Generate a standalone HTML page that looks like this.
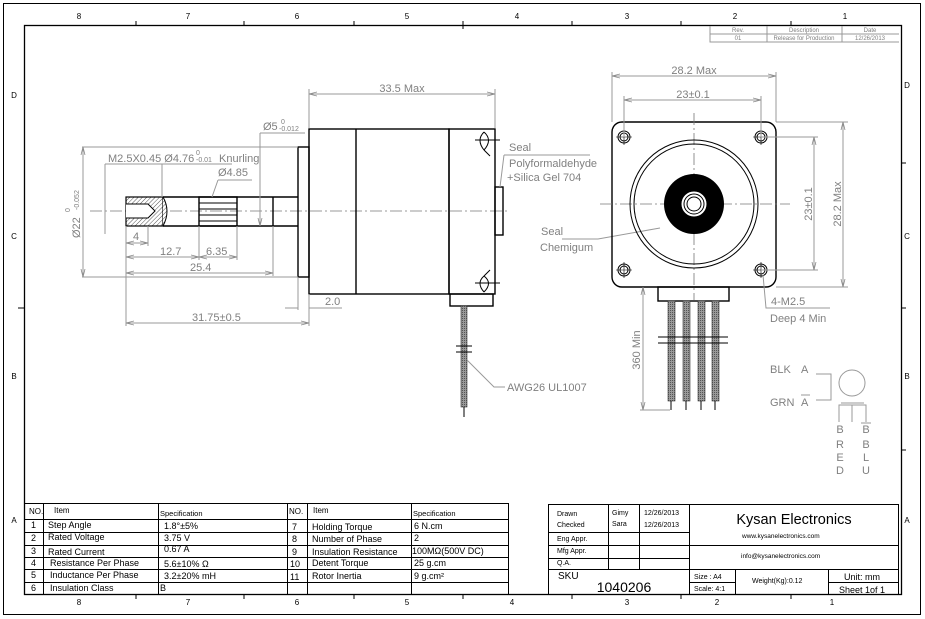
<!DOCTYPE html>
<html><head><meta charset="utf-8"><style>
body{margin:0;background:#fff}
svg{display:block}
text{font-family:"Liberation Sans",sans-serif}
.g{fill:#808080}
.d{stroke:#999;stroke-width:1;fill:none}
.k{stroke:#000;stroke-width:1.4;fill:none}
.t{stroke:#000;stroke-width:1;fill:none}
.c{stroke:#777;stroke-width:0.8;stroke-dasharray:12 3 2 3;fill:none}
</style></head><body>
<svg width="925" height="619" viewBox="0 0 925 619" xmlns="http://www.w3.org/2000/svg">
<defs>
<pattern id="h" width="3" height="3" patternUnits="userSpaceOnUse" patternTransform="rotate(45)"><rect width="3" height="3" fill="#fff"/><line x1="0" y1="0" x2="0" y2="3" stroke="#555" stroke-width="1"/></pattern>
<pattern id="w" width="2" height="2" patternUnits="userSpaceOnUse"><rect width="2" height="2" fill="#999"/><rect width="1" height="1" fill="#555"/></pattern>
<marker id="a" markerWidth="8" markerHeight="6" refX="8" refY="3" orient="auto-start-reverse"><path d="M0,1 L8,3 L0,5" fill="none" stroke="#888" stroke-width="0.8"/></marker>
</defs>
<!-- frames -->
<rect x="3.5" y="3.5" width="917" height="611" fill="none" stroke="#000" stroke-width="1"/>
<rect x="24.5" y="25.5" width="877" height="569" fill="none" stroke="#000" stroke-width="1.3"/>
<g font-size="8" fill="#000" text-anchor="middle">
<text x="79" y="19">8</text><text x="188" y="19">7</text><text x="297" y="19">6</text><text x="407" y="19">5</text><text x="517" y="19">4</text><text x="627" y="19">3</text><text x="735" y="19">2</text><text x="845" y="19">1</text>
<text x="79" y="605">8</text><text x="188" y="605">7</text><text x="297" y="605">6</text><text x="407" y="605">5</text><text x="512" y="605">4</text><text x="627" y="605">3</text><text x="717" y="605">2</text><text x="832" y="605">1</text>
<text x="14" y="98">D</text><text x="14" y="239">C</text><text x="14" y="379">B</text><text x="14" y="523">A</text>
<text x="907" y="88">D</text><text x="907" y="239">C</text><text x="907" y="379">B</text><text x="907" y="523">A</text>
</g>
<g stroke="#000" stroke-width="1">
<path d="M136,21V25M244,21V25M354,21V25M463,21V29M572,21V25M681,21V25M791,21V25"/>
<path d="M136,595V599M244,595V599M354,595V599M463,595V599M572,595V599M681,595V599M791,595V599"/>
<path d="M18,308H24M901,163H906M901,308H906M901,450H906"/>
</g>
<!-- rev table -->
<g class="d" stroke="#aaa"><path d="M710,26V42H899M710,34H899M767,26V42M842,26V42"/></g>
<g font-size="6" class="g" text-anchor="middle"><text x="738" y="32">Rev.</text><text x="804" y="32">Description</text><text x="870" y="32">Date</text><text x="738" y="40">01</text><text x="804" y="40">Release for Production</text><text x="870" y="40">12/26/2013</text></g>

<!-- SIDE VIEW -->
<path class="c" d="M90,211H510"/>
<rect class="k" x="309" y="129" width="140" height="165"/>
<path class="k" d="M356,129V294"/>
<rect class="k" x="449" y="129" width="46" height="165"/>
<rect class="k" x="450" y="294" width="43" height="12"/>
<rect class="k" x="495" y="187" width="8" height="48"/>
<rect class="k" x="298" y="147" width="11" height="130"/>
<path class="k" d="M163,197H298M163,226H298M273,197V226"/>
<rect x="126" y="197" width="37" height="29" fill="url(#h)" stroke="#000" stroke-width="1.2"/>
<path d="M126,204H148L155,211L148,218H126" fill="#fff" stroke="#000" stroke-width="1"/>
<path d="M163,197Q171,211 163,226" fill="url(#h)" stroke="#000"/>
<rect class="k" x="199" y="197" width="38" height="29"/>
<path stroke="#000" d="M199,203H237M199,209H237M199,215H237M199,221H237"/>
<!-- seals -->
<path class="t" d="M484,132Q476,140 484,150 M484,132Q493,140 484,150 M475,140H500M484,150L490,156M484,276Q476,283 484,292 M484,276Q493,283 484,292 M475,283H500M484,276L490,270"/>
<!-- cable -->
<rect x="461" y="306" width="6" height="101" fill="url(#w)" stroke="#333" stroke-width="0.6"/>
<path stroke="#000" d="M456,346H472M456,352H472M464,407V417"/>
<path class="d" d="M467,360L494,387H505"/>
<text x="507" y="391" font-size="11" class="g">AWG26 UL1007</text>
<path class="d" d="M504,155H590M504,155L500,187"/>
<text x="509" y="151" font-size="11" class="g">Seal</text>
<text x="509" y="167" font-size="11" class="g">Polyformaldehyde</text>
<text x="507" y="181" font-size="11" class="g">+Silica Gel 704</text>
<text x="541" y="235" font-size="11" class="g">Seal</text>
<text x="540" y="251" font-size="11" class="g">Chemigum</text>
<path class="d" d="M562,239H598L660,228"/>
<!-- dims side -->
<path class="d" d="M309,128V89M495,128V89" stroke="#aaa"/>
<path class="d" d="M309,94H495" marker-start="url(#a)" marker-end="url(#a)"/>
<text x="402" y="92" font-size="11" class="g" text-anchor="middle">33.5 Max</text>
<text x="263" y="130" font-size="11" class="g">Ø5</text><text x="281" y="124" font-size="7" class="g">0</text><text x="279" y="131" font-size="7" class="g">-0.012</text>
<path class="d" d="M260,133H305M260,133V226M260,190V226" marker-end="url(#a)"/>
<path class="d" d="M82,147H298M82,277H298"/>
<path class="d" d="M83,147V277" marker-start="url(#a)" marker-end="url(#a)"/>
<text transform="translate(80,238) rotate(-90)" font-size="11" class="g">Ø22</text>
<text transform="translate(70,212) rotate(-90)" font-size="7" class="g">0</text>
<text transform="translate(79,210) rotate(-90)" font-size="7" class="g">-0.052</text>
<path class="d" d="M105,164H232M105,164V234M162,164V197"/>
<text x="108" y="162" font-size="11" class="g">M2.5X0.45 Ø4.76</text>
<text x="196" y="155" font-size="7" class="g">0</text><text x="196" y="162" font-size="7" class="g">-0.01</text>
<text x="219" y="162" font-size="11" class="g">Knurling</text>
<text x="218" y="176" font-size="11" class="g">Ø4.85</text>
<path class="d" d="M218,180H252M218,180L212,197"/>
<path class="d" d="M105,201V197M105,221V226"/>
<path class="d" d="M148,226V246M199,226V260M237,226V260M273,226V276M126,226V326M309,294V326M298,277V310"/>
<path class="d" d="M126,243H148" marker-start="url(#a)" marker-end="url(#a)"/>
<text x="133" y="240" font-size="11" class="g">4</text>
<path class="d" d="M126,257H199" marker-start="url(#a)" marker-end="url(#a)"/>
<text x="160" y="255" font-size="11" class="g">12.7</text>
<path class="d" d="M199,257H237" marker-start="url(#a)" marker-end="url(#a)"/>
<text x="206" y="255" font-size="11" class="g">6.35</text>
<path class="d" d="M126,273H273" marker-start="url(#a)" marker-end="url(#a)"/>
<text x="190" y="271" font-size="11" class="g">25.4</text>
<path class="d" d="M285,308H298M309,308H342" />
<text x="325" y="305" font-size="11" class="g">2.0</text>
<path class="d" d="M126,323H309" marker-start="url(#a)" marker-end="url(#a)"/>
<text x="192" y="321" font-size="11" class="g">31.75±0.5</text>

<!-- FRONT VIEW -->
<rect class="k" x="612" y="122" width="164" height="165" rx="10"/>
<path class="c" d="M600,204H790M694,113V300"/>
<circle cx="694" cy="204" r="64" class="t"/>
<circle cx="694" cy="204" r="60" class="t"/>
<circle cx="694" cy="204" r="30" fill="#000"/>
<circle cx="694" cy="204" r="13" fill="#fff" stroke="#000"/>
<circle cx="694" cy="204" r="10" fill="none" stroke="#000"/>
<circle cx="694" cy="204" r="7" fill="none" stroke="#000"/>
<g class="t"><circle cx="624" cy="137" r="6"/><circle cx="624" cy="137" r="4"/><circle cx="761" cy="137" r="6"/><circle cx="761" cy="137" r="4"/><circle cx="624" cy="270" r="6"/><circle cx="624" cy="270" r="4"/><circle cx="761" cy="270" r="6"/><circle cx="761" cy="270" r="4"/></g>
<path stroke="#000" stroke-width="0.6" d="M616,137H632M624,129V145M753,137H769M761,129V145M616,270H632M624,262V278M753,270H769M761,262V278"/>
<rect class="k" x="658" y="287" width="71" height="14"/>
<g fill="url(#w)" stroke="#333" stroke-width="0.6"><rect x="668" y="301" width="7" height="100"/><rect x="683" y="301" width="7" height="100"/><rect x="698" y="301" width="7" height="100"/><rect x="712" y="301" width="7" height="100"/></g>
<path stroke="#000" d="M658,337H728M658,343H728M671,401V410M686,401V410M701,401V410M715,401V410"/>
<!-- front dims -->
<path class="d" d="M612,72V122M776,72V122M624,96V137M761,96V137"/>
<path class="d" d="M612,76H776" marker-start="url(#a)" marker-end="url(#a)"/>
<text x="694" y="74" font-size="11" class="g" text-anchor="middle">28.2 Max</text>
<path class="d" d="M624,100H761" marker-start="url(#a)" marker-end="url(#a)"/>
<text x="693" y="98" font-size="11" class="g" text-anchor="middle">23±0.1</text>
<path class="d" d="M761,137H818M761,270H818M776,122H848M776,287H848"/>
<path class="d" d="M814,137V270" marker-start="url(#a)" marker-end="url(#a)"/>
<text transform="translate(812,204) rotate(-90)" font-size="11" class="g" text-anchor="middle">23±0.1</text>
<path class="d" d="M843,122V287" marker-start="url(#a)" marker-end="url(#a)"/>
<text transform="translate(841,204) rotate(-90)" font-size="11" class="g" text-anchor="middle">28.2 Max</text>
<path class="d" d="M643,287V410" marker-start="url(#a)" marker-end="url(#a)"/>
<path class="d" d="M640,410H670"/>
<text transform="translate(640,350) rotate(-90)" font-size="11" class="g" text-anchor="middle">360 Min</text>
<path class="d" d="M763,275L766,308H830"/>
<text x="771" y="305" font-size="11" class="g">4-M2.5</text>
<text x="770" y="322" font-size="11" class="g">Deep 4 Min</text>
<!-- schematic -->
<text x="770" y="373" font-size="11" class="g">BLK</text><text x="801" y="373" font-size="11" class="g">A</text>
<text x="770" y="406" font-size="11" class="g">GRN</text><text x="801" y="406" font-size="11" class="g">A</text>
<path class="d" d="M801,395H810"/>
<path class="d" d="M816,374H831V400H816M831,378V396"/>
<circle cx="852" cy="383" r="13" class="d"/>
<path class="d" d="M839,422V405H866V422M852,405V422M841,403H864"/>
<g font-size="11" class="g" text-anchor="middle"><text x="840" y="433">B</text><text x="840" y="448">R</text><text x="840" y="461">E</text><text x="840" y="474">D</text>
<text x="866" y="433">B</text><text x="866" y="448">B</text><text x="866" y="461">L</text><text x="866" y="474">U</text></g>
<path class="d" d="M861,423H871"/>

<!-- SPEC TABLE -->
<g stroke="#000" stroke-width="1" fill="none">
<rect x="24.5" y="503.5" width="484" height="91"/>
<path d="M24,519.5H508M24,532.5H508M24,545.5H508M24,557.5H508M24,569.5H508M24,582.5H508M43.5,503V595M158.5,503V595M287.5,503V595M307.5,503V595M411.5,503V595"/>
</g>
<g font-size="9" fill="#000">
<text x="29" y="514" font-size="8">NO.</text><text x="54" y="513" font-size="8">Item</text><text x="160" y="516" font-size="7.5">Specification</text>
<text x="289" y="514" font-size="8">NO.</text><text x="313" y="513" font-size="8">Item</text><text x="413" y="516" font-size="7.5">Specification</text>
<text x="31" y="528">1</text><text x="48" y="528">Step Angle</text><text x="164" y="529">1.8°±5%</text>
<text x="31" y="541">2</text><text x="48" y="540">Rated Voltage</text><text x="164" y="541">3.75 V</text>
<text x="31" y="554">3</text><text x="48" y="555">Rated Current</text><text x="164" y="552">0.67 A</text>
<text x="31" y="566">4</text><text x="50" y="566">Resistance Per Phase</text><text x="164" y="567">5.6±10% Ω</text>
<text x="31" y="578">5</text><text x="50" y="578">Inductance Per Phase</text><text x="164" y="579">3.2±20% mH</text>
<text x="31" y="591">6</text><text x="50" y="591">Insulation Class</text><text x="160" y="591">B</text>
<text x="292" y="530">7</text><text x="312" y="530">Holding Torque</text><text x="414" y="529">6 N.cm</text>
<text x="292" y="542">8</text><text x="312" y="542">Number of Phase</text><text x="414" y="541">2</text>
<text x="292" y="555">9</text><text x="312" y="555">Insulation Resistance</text><text x="412" y="554">100MΩ(500V DC)</text>
<text x="290" y="567">10</text><text x="312" y="566">Detent Torque</text><text x="414" y="566">25 g.cm</text>
<text x="290" y="580">11</text><text x="312" y="579">Rotor Inertia</text><text x="414" y="579">9 g.cm²</text>
</g>

<!-- TITLE BLOCK -->
<g stroke="#000" stroke-width="1" fill="none">
<rect x="548.5" y="504.5" width="350" height="90"/>
<path d="M548,532.5H689M548,545.5H899M548,558.5H689M548,569.5H899M608.5,504V569M639.5,504V569M689.5,504V595M735.5,569V595M828.5,569V595M689,582.5H735M828,582.5H899"/>
</g>
<g font-size="7" fill="#000">
<text x="557" y="516">Drawn</text><text x="557" y="527">Checked</text><text x="557" y="541">Eng Appr.</text><text x="557" y="553">Mfg Appr.</text><text x="557" y="565">Q.A.</text>
<text x="612" y="515">Gimy</text><text x="612" y="526">Sara</text>
<text x="644" y="515">12/26/2013</text><text x="644" y="527">12/26/2013</text>
<text x="742" y="538" font-size="6.5">www.kysanelectronics.com</text>
<text x="741" y="558" font-size="6.5">info@kysanelectronics.com</text>
<text x="694" y="579">Size : A4</text><text x="694" y="591">Scale: 4:1</text>
<text x="752" y="583">Weight(Kg):0.12</text>
</g>
<text x="794" y="524" font-size="14.5" fill="#000" text-anchor="middle">Kysan Electronics</text>
<text x="558" y="579" font-size="10" fill="#000">SKU</text>
<text x="624" y="592" font-size="14" fill="#000" text-anchor="middle">1040206</text>
<text x="862" y="580" font-size="9" fill="#000" text-anchor="middle">Unit: mm</text>
<text x="862" y="593" font-size="9" fill="#000" text-anchor="middle">Sheet 1of 1</text>
</svg>
</body></html>
